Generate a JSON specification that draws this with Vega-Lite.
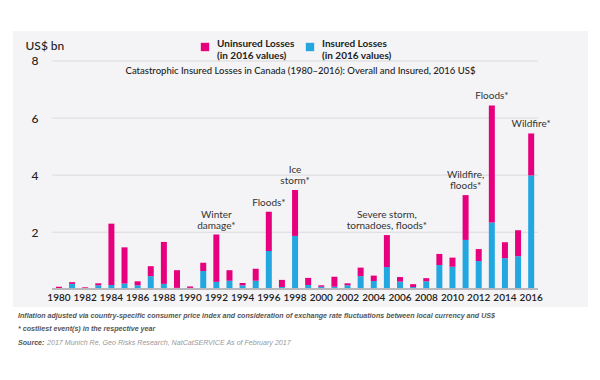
{
  "$schema": "https://vega.github.io/schema/vega-lite/v6.json",
  "width": 575,
  "height": 276,
  "autosize": {"type": "none"},
  "padding": {"left": 13, "top": 31, "right": 12, "bottom": 73},
  "background": "white",
  "view": {"fill": "#f4f4f6", "stroke": null},
  "config": {"font": "Lato"},
  "title": {
    "text": "Catastrophic Insured Losses in Canada (1980–2016): Overall and Insured, 2016 US$",
    "orient": "top",
    "anchor": "middle",
    "frame": "group",
    "offset": -44,
    "fontSize": 9.5,
    "fontWeight": 500,
    "color": "#222222",
    "font": "Lato"
  },
  "datasets": {
    "losses": [
      {"year": 1980, "type": "Insured Losses", "value": 0.02}, {"year": 1980, "type": "Uninsured Losses", "value": 0.07},
      {"year": 1981, "type": "Insured Losses", "value": 0.19}, {"year": 1981, "type": "Uninsured Losses", "value": 0.06},
      {"year": 1982, "type": "Insured Losses", "value": 0.04}, {"year": 1982, "type": "Uninsured Losses", "value": 0.03},
      {"year": 1983, "type": "Insured Losses", "value": 0.14}, {"year": 1983, "type": "Uninsured Losses", "value": 0.07},
      {"year": 1984, "type": "Insured Losses", "value": 0.15}, {"year": 1984, "type": "Uninsured Losses", "value": 2.15},
      {"year": 1985, "type": "Insured Losses", "value": 0.20}, {"year": 1985, "type": "Uninsured Losses", "value": 1.27},
      {"year": 1986, "type": "Insured Losses", "value": 0.14}, {"year": 1986, "type": "Uninsured Losses", "value": 0.14},
      {"year": 1987, "type": "Insured Losses", "value": 0.46}, {"year": 1987, "type": "Uninsured Losses", "value": 0.35},
      {"year": 1988, "type": "Insured Losses", "value": 0.19}, {"year": 1988, "type": "Uninsured Losses", "value": 1.47},
      {"year": 1989, "type": "Insured Losses", "value": 0.05}, {"year": 1989, "type": "Uninsured Losses", "value": 0.62},
      {"year": 1990, "type": "Insured Losses", "value": 0.05}, {"year": 1990, "type": "Uninsured Losses", "value": 0.05},
      {"year": 1991, "type": "Insured Losses", "value": 0.64}, {"year": 1991, "type": "Uninsured Losses", "value": 0.29},
      {"year": 1992, "type": "Insured Losses", "value": 0.26}, {"year": 1992, "type": "Uninsured Losses", "value": 1.66},
      {"year": 1993, "type": "Insured Losses", "value": 0.30}, {"year": 1993, "type": "Uninsured Losses", "value": 0.37},
      {"year": 1994, "type": "Insured Losses", "value": 0.14}, {"year": 1994, "type": "Uninsured Losses", "value": 0.08},
      {"year": 1995, "type": "Insured Losses", "value": 0.30}, {"year": 1995, "type": "Uninsured Losses", "value": 0.42},
      {"year": 1996, "type": "Insured Losses", "value": 1.34}, {"year": 1996, "type": "Uninsured Losses", "value": 1.38},
      {"year": 1997, "type": "Insured Losses", "value": 0.08}, {"year": 1997, "type": "Uninsured Losses", "value": 0.25},
      {"year": 1998, "type": "Insured Losses", "value": 1.87}, {"year": 1998, "type": "Uninsured Losses", "value": 1.61},
      {"year": 1999, "type": "Insured Losses", "value": 0.15}, {"year": 1999, "type": "Uninsured Losses", "value": 0.25},
      {"year": 2000, "type": "Insured Losses", "value": 0.09}, {"year": 2000, "type": "Uninsured Losses", "value": 0.05},
      {"year": 2001, "type": "Insured Losses", "value": 0.09}, {"year": 2001, "type": "Uninsured Losses", "value": 0.35},
      {"year": 2002, "type": "Insured Losses", "value": 0.14}, {"year": 2002, "type": "Uninsured Losses", "value": 0.07},
      {"year": 2003, "type": "Insured Losses", "value": 0.46}, {"year": 2003, "type": "Uninsured Losses", "value": 0.30},
      {"year": 2004, "type": "Insured Losses", "value": 0.29}, {"year": 2004, "type": "Uninsured Losses", "value": 0.19},
      {"year": 2005, "type": "Insured Losses", "value": 0.78}, {"year": 2005, "type": "Uninsured Losses", "value": 1.12},
      {"year": 2006, "type": "Insured Losses", "value": 0.27}, {"year": 2006, "type": "Uninsured Losses", "value": 0.16},
      {"year": 2007, "type": "Insured Losses", "value": 0.08}, {"year": 2007, "type": "Uninsured Losses", "value": 0.10},
      {"year": 2008, "type": "Insured Losses", "value": 0.28}, {"year": 2008, "type": "Uninsured Losses", "value": 0.11},
      {"year": 2009, "type": "Insured Losses", "value": 0.85}, {"year": 2009, "type": "Uninsured Losses", "value": 0.39},
      {"year": 2010, "type": "Insured Losses", "value": 0.79}, {"year": 2010, "type": "Uninsured Losses", "value": 0.32},
      {"year": 2011, "type": "Insured Losses", "value": 1.73}, {"year": 2011, "type": "Uninsured Losses", "value": 1.57},
      {"year": 2012, "type": "Insured Losses", "value": 0.99}, {"year": 2012, "type": "Uninsured Losses", "value": 0.42},
      {"year": 2013, "type": "Insured Losses", "value": 2.34}, {"year": 2013, "type": "Uninsured Losses", "value": 4.10},
      {"year": 2014, "type": "Insured Losses", "value": 1.09}, {"year": 2014, "type": "Uninsured Losses", "value": 0.56},
      {"year": 2015, "type": "Insured Losses", "value": 1.16}, {"year": 2015, "type": "Uninsured Losses", "value": 0.91},
      {"year": 2016, "type": "Insured Losses", "value": 3.99}, {"year": 2016, "type": "Uninsured Losses", "value": 1.47}
    ],
    "events": [
      {"year": 1992, "note": "Winter\ndamage*"},
      {"year": 1996, "note": "Floods*"},
      {"year": 1998, "note": "Ice\nstorm*"},
      {"year": 2005, "note": "Severe storm,\ntornadoes, floods*"},
      {"year": 2011, "note": "Wildfire,\nfloods*"},
      {"year": 2013, "note": "Floods*"},
      {"year": 2016, "note": "Wildfire*"}
    ],
    "grid": [{"v": 2}, {"v": 4}, {"v": 6}, {"v": 8}]
  },
  "layer": [
    {
      "data": {"name": "grid"},
      "mark": {"type": "rule", "color": "#d9d9de", "strokeWidth": 1},
      "encoding": {
        "y": {
          "field": "v", "type": "quantitative", "scale": {"domain": [-0.62, 9.05], "nice": false, "zero": false},
          "axis": {
            "values": [2, 4, 6, 8], "offset": -35, "domain": false, "ticks": false, "tickSize": 0, "grid": false,
            "labelPadding": 10, "labelFontSize": 12, "labelFontWeight": 500, "labelColor": "#222222", "labelFont": "Lato",
            "title": "US$ bn", "titleAngle": 0, "titleAlign": "left", "titleBaseline": "middle", "titleX": -23, "titleY": 14,
            "titleFontSize": 12, "titleFontWeight": 500, "titleColor": "#222222", "titleFont": "Lato"
          }
        },
        "x": {"datum": 1979.5, "type": "quantitative", "axis": null, "scale": {"domain": [1976.88, 2019.95], "nice": false, "zero": false}},
        "x2": {"datum": 2016.5}
      }
    },
    {
      "data": {"name": "losses"},
      "mark": {"type": "bar", "width": 6},
      "encoding": {
        "x": {
          "field": "year", "type": "quantitative", "axis": null,
          "scale": {"domain": [1976.88, 2019.95], "nice": false, "zero": false}
        },
        "y": {
          "field": "value", "type": "quantitative", "stack": "zero",
          "scale": {"domain": [-0.62, 9.05], "nice": false, "zero": false},
          "axis": {
            "values": [2, 4, 6, 8], "offset": -35, "domain": false, "ticks": false, "tickSize": 0, "grid": false,
            "labelPadding": 10, "labelFontSize": 12, "labelFontWeight": 500, "labelColor": "#222222", "labelFont": "Lato",
            "title": "US$ bn", "titleAngle": 0, "titleAlign": "left", "titleBaseline": "middle", "titleX": -23, "titleY": 14,
            "titleFontSize": 12, "titleFontWeight": 500, "titleColor": "#222222", "titleFont": "Lato"
          }
        },
        "color": {
          "field": "type", "type": "nominal",
          "scale": {"domain": ["Uninsured Losses", "Insured Losses"], "range": ["#e6007e", "#22a7e0"]},
          "legend": {
            "title": null, "orient": "none", "direction": "horizontal", "legendX": 187, "legendY": 11,
            "symbolType": "square", "symbolSize": 70, "symbolStrokeWidth": 0, "symbolOpacity": 1,
            "labelExpr": "[datum.label, '(in 2016 values)']", "labelBaseline": "alphabetic",
            "labelFontSize": 10, "labelFontWeight": 700, "labelColor": "#222222", "labelFont": "Lato",
            "labelOffset": 7, "columnPadding": 10, "padding": 0, "labelLimit": 200
          }
        },
        "order": {"field": "type", "sort": "ascending"}
      }
    },
    {
      "data": {"name": "losses"},
      "mark": {"type": "rule", "color": "#b8b8bc", "strokeWidth": 1},
      "encoding": {
        "y": {"datum": 0},
        "x": {"datum": 1979.5},
        "x2": {"datum": 2016.5}
      }
    },
    {
      "data": {"name": "losses"},
      "transform": [
        {"filter": "datum.type == 'Insured Losses' && datum.year % 2 == 0"}
      ],
      "mark": {"type": "text", "baseline": "middle", "align": "center", "fontSize": 10, "fontWeight": 600, "color": "#222222", "font": "Lato"},
      "encoding": {
        "x": {"field": "year", "type": "quantitative"},
        "y": {"datum": -0.3},
        "text": {"field": "year", "type": "quantitative", "format": "d"}
      }
    },
    {
      "data": {"name": "losses"},
      "transform": [
        {"aggregate": [{"op": "sum", "field": "value", "as": "total"}], "groupby": ["year"]},
        {"lookup": "year", "from": {"data": {"name": "events"}, "key": "year", "fields": ["note"]}},
        {"filter": "datum.note != null && indexof(datum.note, '\\n') < 0"}
      ],
      "mark": {"type": "text", "baseline": "bottom", "align": "center", "dy": -4, "fontSize": 10, "color": "#333333", "font": "Lato"},
      "encoding": {
        "x": {"field": "year", "type": "quantitative"},
        "y": {"field": "total", "type": "quantitative"},
        "text": {"field": "note", "type": "nominal"}
      }
    },
    {
      "data": {"name": "losses"},
      "transform": [
        {"aggregate": [{"op": "sum", "field": "value", "as": "total"}], "groupby": ["year"]},
        {"lookup": "year", "from": {"data": {"name": "events"}, "key": "year", "fields": ["note"]}},
        {"filter": "datum.note != null && indexof(datum.note, '\\n') >= 0"}
      ],
      "mark": {"type": "text", "baseline": "bottom", "align": "center", "dy": -15, "lineBreak": "\n", "fontSize": 10, "lineHeight": 11, "color": "#333333", "font": "Lato"},
      "encoding": {
        "x": {"field": "year", "type": "quantitative"},
        "y": {"field": "total", "type": "quantitative"},
        "text": {"field": "note", "type": "nominal"}
      }
    },
    {
      "data": {"values": [{}]},
      "mark": {"type": "text", "align": "left", "baseline": "middle", "fontSize": 7.1, "fontStyle": "italic", "fontWeight": "bold", "color": "#555555", "font": "Liberation Sans", "text": "Inflation adjusted via country-specific consumer price index and consideration of exchange rate fluctuations between local currency and US$"},
      "encoding": {"x": {"datum": 1976.88}, "y": {"datum": -0.935}}
    },
    {
      "data": {"values": [{}]},
      "mark": {"type": "text", "align": "left", "baseline": "middle", "fontSize": 7.1, "fontStyle": "italic", "fontWeight": "bold", "color": "#555555", "font": "Liberation Sans", "text": "* costliest event(s) in the respective year"},
      "encoding": {"x": {"datum": 1976.88}, "y": {"datum": -1.4}}
    },
    {
      "data": {"values": [{}]},
      "mark": {"type": "text", "align": "left", "baseline": "middle", "fontSize": 7.1, "fontStyle": "italic", "fontWeight": "bold", "color": "#555555", "font": "Liberation Sans", "text": "Source:"},
      "encoding": {"x": {"datum": 1976.88}, "y": {"datum": -1.88}}
    },
    {
      "data": {"values": [{}]},
      "mark": {"type": "text", "align": "left", "baseline": "middle", "dx": 29, "fontSize": 7.1, "fontStyle": "italic", "fontWeight": "normal", "color": "#999999", "font": "Liberation Sans", "text": "2017 Munich Re, Geo Risks Research, NatCatSERVICE As of February 2017"},
      "encoding": {"x": {"datum": 1976.88}, "y": {"datum": -1.88}}
    }
  ]
}
